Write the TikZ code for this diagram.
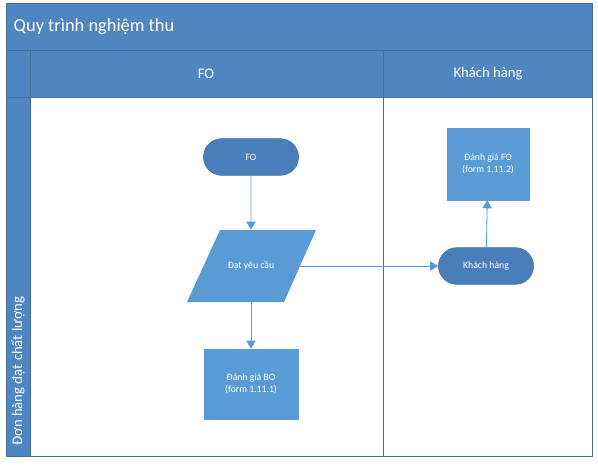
\documentclass[tikz,border=0pt]{standalone}
\usepackage{fontspec}
\setmainfont{Carlito}
\usetikzlibrary{shapes.misc,arrows.meta}

\definecolor{lanehead}{RGB}{79,134,192}
\definecolor{laneline}{RGB}{65,113,156}
\definecolor{termfill}{RGB}{74,126,187}
\definecolor{boxfill}{RGB}{91,155,213}

\tikzset{
  terminal/.style={rounded rectangle, fill=termfill, draw=laneline, line width=0.4pt,
    text=white, minimum width=78pt, minimum height=27.5pt, font=\fontsize{7.3}{9}\selectfont},
  task/.style={rectangle, fill=boxfill, draw=boxfill, text=white, align=center,
    font=\fontsize{7.3}{9}\selectfont},
  datain/.style={rectangle, text=white, minimum width=72.4pt, minimum height=54pt,
    inner sep=0pt, font=\fontsize{7.3}{9}\selectfont},
  flow/.style={draw=boxfill, line width=0.6pt, -{Triangle[width=7pt,length=6pt]}},
  lanetext/.style={text=white, font=\fontsize{11}{13}\selectfont}
}

\begin{document}
\begin{tikzpicture}[x=0.75pt,y=-0.75pt]
  \useasboundingbox (0,0) rectangle (598,465);
  % Khung: tieu de, hang tieu de lan, cot trai
  \def\xL{6} \def\xS{30} \def\xM{383} \def\xR{592}
  \def\yT{3} \def\yH{50} \def\yB{97} \def\yE{456}
  \fill[white] (\xS,\yB) rectangle (\xR,\yE);
  \filldraw[fill=lanehead,draw=laneline] (\xL,\yT) rectangle (\xR,\yH);
  \filldraw[fill=lanehead,draw=laneline] (\xL,\yH) rectangle (\xR,\yB);
  \filldraw[fill=lanehead,draw=laneline] (\xL,\yB) rectangle (\xS,\yE);
  \draw[laneline] (\xS,\yH) -- (\xS,\yE) -- (\xR,\yE) -- (\xR,\yB);
  \draw[laneline] (\xM,\yH) -- (\xM,\yE);
  \node[lanetext,anchor=west,font=\fontsize{13.8}{16}\selectfont] (title) at (9,27) {Quy trình nghiệm thu};
  \node[lanetext] (laneFO) at (206,74) {FO};
  \node[lanetext] (laneKH) at (488,74) {Khách hàng};
  \node[lanetext,rotate=90] (pool) at (18,371) {Đơn hàng đạt chất lượng};

  % Cac buoc
  \node[terminal] (startFO) at (251,157) {FO};
  % hinh binh hanh
  \fill[boxfill] (187,302) -- (220,230) -- (316,230) -- (284,302) -- cycle;
  \node[datain] (datYC) at (251,266) {Đạt yêu cầu};
  \node[task,minimum width=70.5pt,minimum height=52.5pt] (evalBO) at (251,384) {Đánh giá BO\\(form 1.11.1)};
  \node[terminal] (startKH) at (486,266) {Khách hàng};
  \node[task,minimum width=61.5pt,minimum height=54pt] (evalFO) at (488,164) {Đánh giá FO\\(form 1.11.2)};

  \draw[flow] (startFO) -- (datYC);
  \draw[flow] (datYC) -- (evalBO);
  \draw[flow] (datYC) -- (startKH);
  \draw[flow] (startKH) -- (evalFO);
\end{tikzpicture}
\end{document}
